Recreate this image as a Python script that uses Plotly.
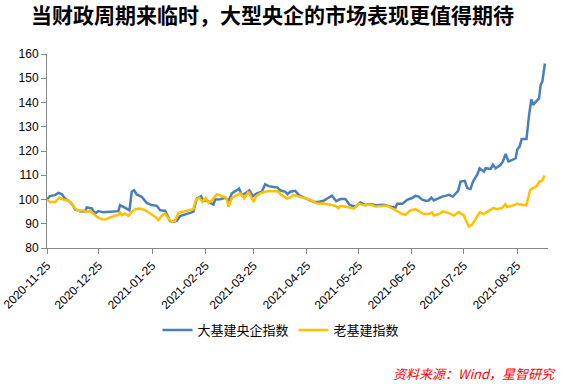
import pandas as pd
import plotly.graph_objects as go

start_date = "2020-11-25"

# 大基建央企指数 (blue): days since start, index value
blue_days = [0, 1.7, 4.6, 6.6, 8.5, 10.5, 13.4, 15.3, 16.3, 19.2, 22.1, 23.1, 26, 27.9, 29.8, 32.7,
             36.6, 41.5, 42.4, 45.3, 47.9, 49.2, 50.6, 52.1, 55, 57.9, 60.8, 63.8, 65.7, 68.6, 70,
             71.5, 73.4, 75.4, 77.3, 85, 87, 89.5, 90.9, 92.9, 94.8, 96.7, 97.7, 100.6, 103.5,
             105.5, 107.4, 109.9, 111.6, 113.2, 115.1, 117.6, 119.6, 121.9, 124.8, 126.7, 128.7,
             131.6, 133.9, 135.5, 138.4, 139.7, 141.3, 144.2, 146.1, 149, 152, 155, 157.7, 160.6,
             163, 165.5, 168, 170.4, 173.3, 175.8, 179.1, 182, 184.9, 187.8, 191.2, 195.6, 199.4,
             202.4, 203.4, 206.3, 209.2, 212.1, 214, 215.9, 217.9, 219.8, 221.7, 223.3, 224.7,
             226.6, 229.5, 231.4, 233.4, 235.7, 237.2, 238.8, 240.2, 242.7, 244.1, 246, 247.4,
             249.9, 251.3, 253.8, 254.7, 257.7, 259, 260.6, 263.5, 264.8, 266.4, 268, 270.3,
             272.2, 273.2, 274.5, 275.7, 278.5, 279.9, 281.3, 282.3, 283.8, 285.8, 286.7, 287.7,
             289.2]
blue_vals = [100, 101.4, 101.8, 102.7, 102.2, 100.4, 99, 97.3, 95.9, 95.2, 95.1, 96.7, 96.3, 94.2,
             95.2, 94.7, 94.9, 95.2, 97.7, 96.7, 95.6, 103.2, 103.8, 102.1, 101.1, 98.6, 97.7,
             97.4, 95.6, 95.3, 93.2, 91.1, 90.8, 91.2, 93.2, 94.9, 100.4, 101.4, 99.5, 99.7, 98.6,
             97.9, 100, 100.1, 100.7, 99.5, 102.5, 103.8, 104.5, 101.8, 102.5, 103.8, 101.4,
             102.5, 103.2, 106.3, 105.5, 105.2, 104.9, 103.8, 103.2, 102.2, 103.2, 103.6, 101.9,
             100.9, 99.8, 99, 99, 99.5, 100.5, 101.6, 99.3, 100.2, 100.2, 97.8, 97, 98.8, 97.7,
             98.1, 97.6, 97.8, 97.1, 96.7, 98.2, 98.2, 99.9, 100.6, 101.5, 101.2, 99.9, 99.5,
             99.6, 100.8, 99.6, 100.3, 101.2, 101.5, 101.9, 101.2, 102.6, 103.6, 107.4, 107.7,
             104.7, 104.3, 107.4, 110.2, 112.9, 111.5, 112.9, 112.6, 114.3, 112.9, 114.3, 115.7,
             118.8, 115.7, 116.3, 117, 120.7, 121.8, 124.9, 124.9, 134.2, 141.3, 139, 140.3,
             141.7, 147.2, 148.6, 156.1]

# 老基建指数 (yellow)
yellow_days = [0, 1.7, 5, 7, 9.5, 12.4, 14.3, 16.3, 18.2, 20.2, 23.1, 25, 26.9, 28.9, 30.8, 32.7,
               34.7, 36.6, 39.5, 41.5, 42.4, 43.4, 45.3, 47.3, 49.2, 51.2, 54.1, 57, 59.9, 62.8,
               64.7, 66.7, 68.6, 70.5, 72.5, 74.4, 76.3, 81.2, 85, 86.6, 88.5, 90.3, 92.2, 93.8,
               95.8, 98.6, 101.6, 104.1, 105.5, 107.4, 110.3, 112.6, 114.6, 117.1, 120, 121.5,
               123.9, 126.2, 128.7, 131.6, 133.9, 136.4, 139.3, 141.3, 143.2, 146.1, 149, 152.9,
               156.8, 160.7, 163.6, 167.5, 169.4, 170.4, 174.3, 178.2, 181.1, 184, 187.8, 190.8,
               194.6, 197.5, 200.4, 203.4, 206.3, 208.2, 211.1, 214, 215.9, 218.8, 221.7, 223.6,
               224.7, 227.6, 230.1, 233.4, 236.3, 239.2, 242.1, 243.4, 245, 246.9, 248.8, 251.3,
               253.6, 256.5, 259.4, 261.4, 264.3, 266.2, 267.2, 270.1, 273, 275.9, 278.4, 280.7,
               282.6, 284.6, 285.9, 287.5, 289]
yellow_vals = [100, 99, 99, 100.8, 100, 99.5, 98.4, 96.3, 95.3, 95.6, 94.9, 95.3, 94.2, 92.9, 92.2,
               91.8, 91.9, 92.6, 93.3, 93.6, 94.9, 93.6, 94.2, 93.3, 94.9, 96, 96.3, 95.6, 94.2,
               92.9, 91.5, 93.3, 94.2, 92.2, 90.8, 91.2, 94.5, 95.2, 96, 100, 100.7, 99, 100.6,
               98.6, 99.7, 102.2, 101.5, 100.7, 97, 100.7, 101.8, 102.5, 100.4, 103.2, 99, 101.4,
               102.5, 103.2, 103.4, 103.4, 103.4, 101.8, 100.4, 100.9, 101.8, 101.3, 100.6, 99.9,
               98.3, 98.3, 97.9, 97.4, 96.4, 97.4, 96.9, 96.2, 98.3, 97.6, 97.9, 97.1, 97.3, 97.5,
               96.4, 95.1, 94, 93.7, 95.5, 96, 95.1, 94, 94, 94.7, 93.4, 94, 95.1, 94.4, 93.4,
               94.8, 93.4, 91.6, 88.9, 89.6, 91.6, 94.7, 94, 95.4, 96.5, 96, 96.5, 98.1, 96.9,
               97.4, 98.2, 97.8, 97.6, 104, 104.9, 105.6, 107.4, 107.7, 109.9]

tick_dates = ["2020-11-25", "2020-12-25", "2021-01-25", "2021-02-25", "2021-03-25",
              "2021-04-25", "2021-05-25", "2021-06-25", "2021-07-25", "2021-08-25"]
y_ticks = [80, 90, 100, 110, 120, 130, 140, 150, 160]

base = pd.Timestamp(start_date)
blue_x = [base + pd.to_timedelta(d, unit="D") for d in blue_days]
yellow_x = [base + pd.to_timedelta(d, unit="D") for d in yellow_days]

BLUE = "#4A7EBB"
YELLOW = "#FFC000"
AXIS = "#868686"
TICK_FONT = dict(family="Liberation Sans, Arial, sans-serif", size=12, color="#000000")

W, H = 563, 384
L, R, T, B = 47, 15, 54, 136

fig = go.Figure()
fig.add_trace(go.Scatter(x=blue_x, y=blue_vals, mode="lines", name="大基建央企指数",
                         line=dict(color=BLUE, width=2.5)))
fig.add_trace(go.Scatter(x=yellow_x, y=yellow_vals, mode="lines", name="老基建指数",
                         line=dict(color=YELLOW, width=2.5)))

fig.update_layout(
    width=W, height=H,
    margin=dict(l=L, r=R, t=T, b=B, autoexpand=False),
    paper_bgcolor="white", plot_bgcolor="white",
    title=dict(text="<b>当财政周期来临时，大型央企的市场表现更值得期待</b>",
               x=272.5 / W, xanchor="center", y=1 - 15.5 / H, yanchor="middle",
               font=dict(family="Noto Sans CJK SC", size=21, color="#000000")),
    showlegend=True,
    legend=dict(orientation="h", xref="container", yref="container",
                x=281 / W, xanchor="center", y=1 - 330 / H, yanchor="middle",
                font=dict(family="Noto Sans CJK SC", size=13, color="#000000"),
                itemwidth=30, bgcolor="rgba(0,0,0,0)"),
    annotations=[dict(text="<i>资料来源：Wind，星智研究</i>", xref="paper", yref="paper",
                      x=(558 - L) / (W - L - R), y=(H - B - 373) / (H - T - B),
                      xanchor="right", yanchor="middle", showarrow=False,
                      font=dict(family="Noto Sans CJK SC", size=13, color="#FF0000"))],
)
fig.update_xaxes(
    type="date", range=[base, base + pd.Timedelta(days=291)], automargin=False,
    tickvals=tick_dates, ticktext=tick_dates, tickangle=-45, ticklabeloverflow="allow",
    showline=True, linecolor=AXIS, linewidth=1, ticks="outside", ticklen=5,
    tickcolor=AXIS, showgrid=False, zeroline=False, tickfont=TICK_FONT,
)
fig.update_yaxes(
    range=[80, 160], tickvals=y_ticks, showline=True, linecolor=AXIS, linewidth=1,
    automargin=False, ticks="outside", ticklen=5, tickcolor=AXIS, showgrid=False,
    zeroline=False, tickfont=TICK_FONT,
)

fig.write_html("out.html", config={"displayModeBar": False},
               post_script="document.body.style.margin='0';")
